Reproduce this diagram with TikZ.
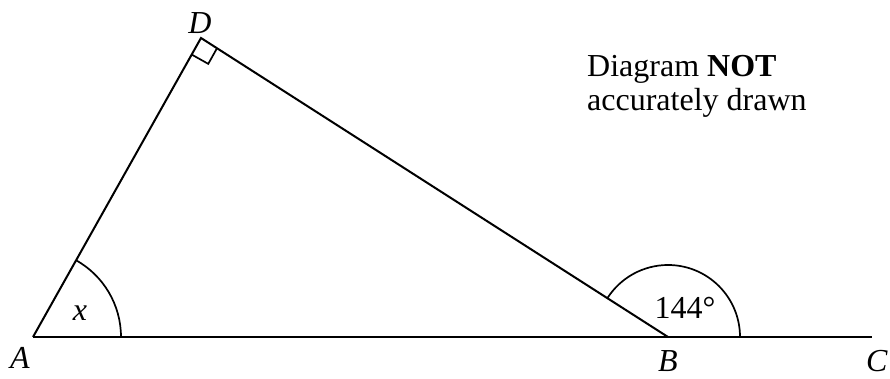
\documentclass[tikz,border=0pt]{standalone}
\usepackage{fontspec}
\setmainfont{Liberation Serif}
\usetikzlibrary{calc,angles}

\begin{document}
\begin{tikzpicture}[
  x=1pt, y=1pt,
  font=\fontsize{32}{38}\selectfont,
  edge/.style={line width=2pt},
  arcmark/.style={draw, line width=1.7pt},
  lbl/.style={inner sep=0pt},
  note/.style={inner sep=0pt, anchor=base west}]
\useasboundingbox (0,0) rectangle (890,379);
\coordinate (A) at (33,42);
\coordinate (B) at (668,42);
\coordinate (C) at (872,42);
\coordinate (D) at (201,341);
% triangle and line
\draw[edge] (A) -- (C);
\draw[edge] (A) -- (D) -- (B);
% angle marks
\pic[arcmark, angle radius=88pt] {angle = B--A--D};
\pic[arcmark, angle radius=72pt] {angle = C--B--D};
\draw[line width=1.7pt] ($(D)!19pt!(A)$) -- ($(D)!19pt!(A)!19pt!90:(A)$)
  -- ($(D)!19pt!(B)$);
% labels
\node[lbl] (lA) at (20,21) {\textit{A}};
\node[lbl] (lB) at (668,18) {\textit{B}};
\node[lbl] (lC) at (877,18) {\textit{C}};
\node[lbl] (lD) at (200,356) {\textit{D}};
\node[lbl] (lx) at (80,66) {\textit{x}};
\node[lbl] (lb) at (685,71) {144°};
\node[note] (n1) at (587,302) {Diagram \textbf{NOT}};
\node[note] (n2) at (587,268) {accurately drawn};
\end{tikzpicture}
\end{document}
